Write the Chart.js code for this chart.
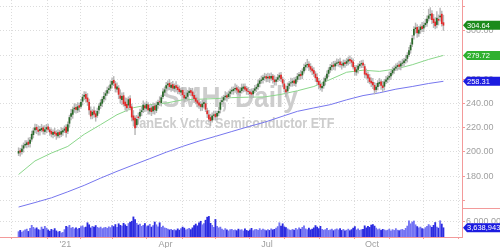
<!DOCTYPE html>
<html>
<head>
<meta charset="utf-8">
<script src="https://cdn.jsdelivr.net/npm/chart.js@4.4.1/dist/chart.umd.min.js"></script>
<style>
  html, body { margin: 0; padding: 0; background: #fff; }
  #wrap { width: 500px; height: 248px; position: relative; }
</style>
</head>
<body>
<div id="wrap"><canvas id="myChart"></canvas></div>
<script>
// SMH daily, 2020-11-19 .. 2021-12-02 (bar index 0..259)
const opens = [
  198.9, 200.9, 200.2, 203.0, 205.6, 206.0, 208.1, 206.9, 210.5, 214.2,
  218.1, 220.3, 218.0, 217.5, 218.2, 219.9, 216.8, 218.9, 220.7, 218.2,
  216.9, 214.5, 216.6, 215.4, 213.2, 216.3, 214.6, 216.4, 217.8, 220.4,
  217.1, 223.6, 229.3, 231.0, 235.5, 236.8, 234.6, 238.2, 237.5, 241.8,
  245.9, 247.5, 244.6, 241.0, 233.8, 230.5, 233.9, 231.5, 230.1, 234.6,
  238.2, 240.1, 243.8, 246.6, 248.5, 251.4, 252.6, 255.8, 259.1, 256.2,
  251.9, 252.7, 246.3, 243.1, 246.4, 241.2, 239.3, 238.6, 243.9, 237.2,
  229.8, 227.9, 222.4, 228.9, 229.5, 233.2, 234.9, 238.1, 235.9, 238.8,
  233.7, 236.4, 233.9, 237.9, 234.2, 238.9, 241.5, 240.6, 245.7, 249.2,
  252.6, 255.3, 256.7, 253.2, 255.6, 252.4, 254.8, 253.5, 251.9, 249.3,
  250.9, 246.8, 244.1, 245.8, 248.9, 250.7, 249.5, 246.7, 244.5, 242.3,
  240.6, 239.2, 237.1, 239.9, 239.8, 233.9, 230.6, 228.4, 226.3, 230.1,
  231.2, 229.4, 232.2, 235.1, 241.4, 242.8, 245.5, 246.6, 245.6, 248.3,
  250.2, 250.6, 252.0, 252.9, 251.4, 249.1, 250.6, 252.5, 253.8, 252.3,
  250.1, 249.6, 248.9, 247.9, 250.8, 252.4, 253.8, 256.5, 258.9, 259.7,
  261.6, 262.3, 261.2, 262.4, 260.9, 262.6, 259.5, 258.3, 259.9, 261.7,
  263.4, 259.8, 256.2, 251.4, 250.3, 254.8, 256.9, 257.3, 258.7, 256.6,
  259.9, 262.7, 264.1, 263.5, 266.9, 270.2, 271.9, 272.6, 270.5, 268.6,
  267.2, 264.3, 261.5, 258.4, 255.9, 252.9, 254.6, 258.3, 260.9, 264.8,
  267.8, 270.3, 271.8, 270.9, 273.1, 273.8, 274.5, 272.4, 271.5, 273.8,
  273.2, 274.9, 276.4, 275.6, 274.3, 269.8, 265.9, 268.2, 271.1, 272.6,
  273.4, 270.5, 264.8, 263.9, 261.2, 258.5, 257.4, 255.0, 251.5, 253.9,
  256.5, 257.8, 254.6, 254.2, 258.3, 259.9, 261.6, 262.8, 265.2, 267.5,
  269.2, 270.5, 271.9, 270.9, 273.1, 273.8, 275.5, 277.2, 280.4, 284.2,
  289.0, 296.5, 301.8, 302.9, 298.0, 300.9, 303.6, 302.3, 305.1, 306.5,
  310.3, 312.9, 314.1, 309.8, 307.4, 305.2, 309.6, 311.5, 313.8, 306.8
];
const highs = [
  203.4, 203.0, 205.5, 207.4, 209.4, 209.4, 211.5, 212.0, 217.2, 219.7,
  223.0, 222.7, 221.5, 221.1, 222.8, 221.5, 221.8, 222.7, 222.9, 220.3,
  219.1, 218.1, 219.6, 217.5, 218.5, 217.9, 220.0, 219.7, 221.5, 222.5,
  224.8, 230.3, 235.2, 237.1, 239.9, 239.3, 240.7, 240.4, 243.5, 247.6,
  249.9, 249.6, 248.2, 243.6, 237.2, 235.0, 237.2, 234.1, 236.2, 239.8,
  243.1, 245.4, 249.1, 250.5, 253.6, 254.6, 258.7, 261.1, 262.3, 258.3,
  257.0, 254.8, 251.3, 248.7, 249.0, 244.6, 244.4, 245.5, 246.5, 239.4,
  234.2, 229.7, 230.2, 232.2, 235.4, 237.4, 242.1, 240.6, 242.0, 240.7,
  238.6, 238.5, 240.6, 240.1, 241.3, 242.8, 245.6, 246.9, 252.2, 253.7,
  257.4, 258.6, 259.9, 257.5, 258.3, 256.2, 258.0, 255.4, 254.5, 252.8,
  253.1, 249.1, 248.8, 250.8, 253.1, 252.5, 252.6, 248.7, 247.1, 244.7,
  243.3, 241.5, 242.9, 243.6, 242.4, 236.2, 234.4, 231.1, 232.3, 233.6,
  233.8, 233.8, 236.8, 243.0, 245.6, 246.8, 249.9, 248.9, 250.3, 251.8,
  253.6, 253.7, 256.3, 255.1, 254.0, 252.4, 256.1, 256.1, 256.2, 254.2,
  253.4, 251.6, 252.1, 252.5, 254.9, 255.6, 259.5, 260.8, 262.7, 263.4,
  265.0, 264.2, 265.2, 264.6, 265.3, 264.1, 263.0, 261.9, 264.1, 265.3,
  265.7, 261.8, 259.4, 254.6, 256.9, 258.2, 260.9, 260.6, 261.3, 261.8,
  264.9, 265.8, 267.2, 268.7, 272.5, 273.9, 276.5, 274.6, 273.0, 270.8,
  269.7, 266.3, 264.6, 260.8, 258.8, 256.5, 261.2, 262.8, 266.9, 269.6,
  272.4, 273.7, 274.8, 275.1, 276.8, 276.4, 277.6, 274.6, 276.0, 275.9,
  277.2, 278.4, 279.4, 277.8, 276.9, 271.6, 271.4, 272.9, 274.9, 275.5,
  275.8, 272.4, 268.5, 266.2, 264.0, 261.2, 260.8, 257.3, 256.7, 258.9,
  260.7, 259.5, 258.3, 260.0, 262.4, 263.2, 266.0, 267.0, 270.0, 271.0,
  272.8, 273.5, 275.1, 275.0, 276.6, 277.2, 279.9, 282.0, 286.4, 290.2,
  296.4, 303.6, 306.5, 305.2, 303.8, 305.1, 307.1, 306.8, 309.7, 312.5,
  317.9, 319.2, 316.8, 313.6, 311.0, 315.9, 313.2, 318.9, 316.4, 313.0
];
const lows = [
  196.9, 196.5, 198.0, 199.7, 203.7, 203.3, 204.0, 203.8, 208.7, 211.5,
  215.6, 215.0, 213.8, 213.8, 216.5, 214.6, 214.5, 215.7, 216.8, 213.6,
  212.3, 211.6, 212.7, 210.3, 211.5, 211.6, 212.5, 213.5, 215.9, 212.1,
  215.1, 220.6, 226.3, 227.7, 232.6, 232.0, 232.4, 233.1, 235.9, 238.7,
  242.9, 241.0, 238.3, 231.0, 227.3, 227.3, 228.4, 225.3, 228.4, 231.7,
  235.8, 237.3, 241.3, 242.9, 246.7, 248.3, 250.5, 252.7, 254.7, 249.4,
  249.3, 243.9, 240.2, 239.0, 237.7, 234.5, 233.5, 235.6, 234.7, 225.5,
  221.3, 214.1, 220.0, 222.8, 227.5, 229.8, 232.4, 233.3, 234.2, 231.1,
  231.1, 229.9, 231.4, 231.1, 232.4, 235.9, 238.2, 237.8, 244.0, 246.5,
  250.5, 251.9, 251.4, 249.9, 250.7, 249.7, 250.8, 248.0, 247.7, 246.4,
  245.2, 241.0, 241.2, 242.5, 246.8, 246.3, 244.2, 240.6, 239.6, 237.1,
  235.9, 233.9, 234.2, 236.1, 233.2, 228.3, 224.6, 221.6, 224.5, 226.4,
  226.3, 226.5, 229.7, 232.1, 239.1, 240.0, 242.8, 241.8, 243.9, 245.4,
  247.6, 247.6, 249.1, 247.8, 247.1, 246.1, 248.5, 249.5, 250.0, 247.5,
  247.3, 244.7, 244.2, 244.7, 248.8, 249.7, 251.7, 253.6, 256.6, 256.8,
  259.1, 257.7, 258.1, 257.3, 259.0, 256.8, 255.2, 255.1, 258.1, 258.8,
  258.0, 253.7, 249.6, 245.4, 248.5, 252.0, 254.0, 254.2, 254.8, 254.0,
  257.8, 259.6, 260.1, 260.4, 265.0, 267.5, 269.4, 267.0, 266.0, 263.8,
  262.3, 258.2, 255.5, 252.0, 251.1, 249.9, 252.5, 255.2, 259.2, 262.0,
  265.6, 267.3, 268.1, 267.6, 271.1, 270.7, 269.9, 268.3, 269.9, 269.8,
  271.2, 271.8, 272.8, 270.6, 268.3, 263.4, 263.2, 265.1, 269.2, 269.5,
  269.5, 261.2, 260.7, 257.1, 256.2, 253.9, 252.2, 247.8, 249.4, 251.2,
  254.4, 251.6, 249.8, 251.1, 256.4, 257.1, 259.3, 259.8, 263.6, 264.8,
  267.0, 267.4, 268.2, 267.7, 270.9, 271.1, 273.2, 274.2, 278.7, 281.5,
  286.9, 293.1, 298.0, 294.6, 295.3, 297.9, 299.3, 299.2, 303.2, 303.7,
  308.1, 309.6, 306.0, 302.6, 301.5, 302.4, 304.8, 308.1, 303.8, 300.3
];
const closes = [
  200.5, 199.8, 202.4, 205.1, 206.3, 207.5, 206.2, 209.8, 214.6, 217.3,
  219.8, 218.4, 216.9, 218.7, 219.5, 217.2, 218.3, 220.1, 218.6, 216.4,
  214.8, 216.2, 215.1, 213.7, 215.9, 214.2, 216.8, 217.5, 218.9, 216.0,
  222.5, 228.4, 231.6, 234.8, 236.2, 235.1, 237.4, 236.8, 240.9, 245.2,
  246.8, 244.1, 241.3, 234.7, 229.6, 232.8, 231.2, 228.9, 233.5, 237.8,
  240.6, 243.4, 245.9, 248.1, 250.7, 252.3, 255.4, 258.2, 256.9, 252.6,
  253.8, 247.5, 244.2, 245.8, 239.6, 238.1, 236.4, 243.2, 236.5, 228.7,
  226.3, 219.8, 226.9, 228.2, 232.6, 234.1, 238.7, 236.4, 239.3, 234.6,
  235.9, 233.2, 237.5, 234.8, 238.6, 240.9, 241.2, 244.8, 249.6, 251.3,
  254.8, 256.2, 253.9, 255.1, 252.7, 254.3, 253.1, 251.4, 249.8, 250.6,
  247.2, 244.5, 245.3, 248.6, 250.2, 249.1, 246.3, 244.0, 241.8, 240.2,
  238.5, 237.4, 239.6, 240.8, 235.2, 231.4, 227.1, 225.8, 229.7, 230.6,
  228.9, 231.8, 233.5, 240.7, 242.3, 244.9, 246.1, 245.2, 247.8, 249.6,
  250.9, 251.7, 252.4, 251.1, 249.3, 250.2, 252.8, 253.6, 251.9, 250.4,
  249.8, 248.1, 247.6, 250.3, 252.1, 253.4, 256.2, 258.7, 259.5, 261.3,
  262.0, 260.8, 261.9, 260.7, 262.4, 259.8, 257.9, 259.6, 261.4, 263.1,
  260.2, 256.8, 252.1, 249.5, 254.2, 256.3, 257.1, 258.4, 256.9, 259.7,
  262.3, 263.8, 262.9, 266.4, 269.8, 271.6, 272.3, 270.1, 268.2, 266.9,
  264.8, 261.2, 258.0, 255.6, 253.4, 254.1, 257.9, 260.6, 264.3, 267.5,
  269.9, 271.4, 270.6, 272.8, 273.5, 274.2, 272.1, 271.8, 273.4, 272.9,
  274.6, 276.1, 275.3, 274.0, 270.2, 266.4, 267.9, 270.8, 272.3, 273.1,
  271.6, 264.2, 263.5, 260.8, 258.1, 256.9, 255.3, 251.2, 253.6, 256.8,
  257.4, 254.9, 253.1, 257.8, 259.6, 261.2, 262.5, 264.9, 267.3, 268.8,
  270.1, 271.4, 270.6, 272.8, 273.5, 275.2, 276.4, 279.8, 283.6, 288.1,
  293.7, 301.2, 302.5, 298.4, 300.7, 303.2, 301.9, 304.6, 306.3, 309.8,
  312.4, 313.6, 309.2, 306.8, 304.1, 310.5, 308.7, 312.3, 305.9, 304.64
];
// volume in millions of shares
const volumes = [
  2.1, 2.6, 1.9, 2.4, 2.8, 3.1, 2.2, 3.4, 4.6, 3.8, 3.2,
  3.6, 2.9, 2.7, 3.9, 3.1, 4.2, 3.5, 2.8, 2.3, 3.0, 2.6, 3.3, 2.4, 1.9, 2.2, 1.6, 1.8, 2.9,
  4.2, 3.9, 4.6, 3.5, 3.8, 3.2, 3.6, 3.1, 3.4, 4.1, 4.4, 3.7, 3.9, 5.6, 4.8, 3.6, 4.2, 3.9, 4.5,
  3.8, 3.5, 3.9, 3.3, 3.6, 3.8, 3.4, 4.0, 3.7, 4.5, 4.1, 4.9, 3.8, 5.2, 4.6, 4.3, 5.4, 4.8, 4.2,
  5.3, 5.8, 6.2, 7.9, 6.8, 5.4, 4.7, 5.1, 4.2, 4.6, 5.3, 4.1, 4.4, 5.0, 3.9, 4.5, 5.9, 4.8, 4.0, 5.6, 3.8, 4.3, 3.6,
  3.4, 3.1, 2.8, 3.0, 2.6, 2.9, 2.5, 3.2, 2.7, 3.3, 3.9, 3.5, 2.8, 3.1, 3.4, 2.9, 3.6, 4.5, 5.1, 4.4, 5.6,
  6.2, 4.8, 5.3, 6.6, 7.8, 8.1, 5.4, 4.6, 3.8, 6.9, 4.2, 3.6, 3.9, 3.1, 2.7, 3.3, 2.8, 2.4, 2.9,
  3.0, 2.6, 2.8, 2.5, 3.1, 2.7, 2.9, 2.4, 3.2, 2.6, 2.3, 2.8, 3.4, 2.5, 2.9, 3.0, 2.6, 3.3, 2.7, 3.1, 2.8, 2.5,
  2.9, 2.6, 3.2, 2.8, 3.0, 3.5, 4.1, 5.6, 4.3, 5.2, 4.0, 3.7, 3.2, 2.8, 2.6, 3.0, 2.7, 3.4, 2.9, 3.6, 3.1,
  3.8, 4.4, 3.2, 2.9, 3.5, 2.8, 3.1, 3.6, 4.5, 3.9, 3.3, 4.2, 3.0, 2.7, 2.9, 3.4, 2.6, 2.8, 3.1, 2.5, 2.9, 3.2,
  2.8, 3.3, 2.6, 3.0, 2.4, 2.7, 3.1, 2.5, 2.9, 3.5, 4.1, 2.8, 3.2, 2.6, 2.9, 3.0, 4.4, 3.6, 4.2, 3.8, 4.7,
  4.9, 4.3, 3.5, 2.9, 3.2, 2.6, 3.0, 2.8, 2.5, 2.7, 3.1, 2.4, 2.9, 2.6, 3.3, 2.7, 2.5, 2.8, 3.0, 2.6, 3.4,
  4.3, 6.4, 5.2, 5.9, 6.3, 4.8, 4.1, 3.6, 3.9, 3.3, 3.1, 3.7, 4.2, 4.9, 4.4, 3.8, 4.6, 5.7, 3.9, 3.5, 6.4, 5.1, 3.638943
];
// moving averages, read at these bar indices
const smaIdx = [0, 10, 20, 30, 40, 50, 60, 70, 80, 90, 100, 110, 120, 130, 140, 150, 160, 170, 180, 190, 200, 210, 220, 230, 240, 250, 259];
const sma50 = [181.3, 192.5, 199.0, 204.5, 214.5, 222.5, 230.7, 236.5, 239.0, 240.3, 243.0, 243.5, 244.0, 244.8, 245.2, 245.4, 247.5, 250.5, 254.0, 259.8, 265.8, 267.5, 266.5, 268.5, 272.0, 276.4, 279.72];
const sma200 = [154.4, 158.1, 162.0, 167.0, 172.3, 178.3, 183.9, 189.2, 194.4, 199.7, 204.5, 208.9, 212.8, 216.8, 220.8, 224.5, 229.0, 233.5, 236.3, 239.0, 243.0, 246.5, 248.8, 251.8, 254.0, 256.5, 258.31];

// first bar of each month and the axis labels
const monthStarts = [7, 29, 48, 67, 90, 111, 130, 152, 173, 195, 216, 237, 258];
const monthLabels = ['', "'21", '', '', 'Apr', '', '', 'Jul', '', '', 'Oct', '', ''];
const priceTicks = [160, 180, 200, 220, 240, 260, 280, 300, 320];
const volumeTicks = [6];

const UP = '#2a6a2a', DOWN = '#e22a2a';
const RED = '#f39a9a';

const bodies = closes.map((c, i) => ({ x: i, y: [opens[i], c] }));
const wicks = highs.map((h, i) => ({ x: i, y: [lows[i], h] }));
const vols = volumes.map((v, i) => ({ x: i, y: v }));
const bodyColors = closes.map((c, i) => c >= opens[i] ? UP : DOWN);
const volColors = closes.map((c, i) => c >= opens[i] ? '#7373f3' : '#2b2be0');

Chart.defaults.font.family = "'Liberation Sans', Arial, sans-serif";
Chart.defaults.font.size = 9;
Chart.defaults.color = '#a0a0a0';

const watermark = {
  id: 'watermark',
  beforeDatasetsDraw(chart) {
    const ctx = chart.ctx;
    const fit = (text, font, cx, y, w) => {
      ctx.save();
      ctx.font = font;
      const m = ctx.measureText(text).width;
      ctx.translate(cx, y);
      ctx.scale(w / m, 1);
      ctx.textAlign = 'center';
      ctx.textBaseline = 'alphabetic';
      ctx.fillStyle = '#cdcdcd';
      ctx.fillText(text, 0, 0);
      ctx.restore();
    };
    fit('SMH, Daily', "bold 30px 'Liberation Sans'", 230, 107, 136);
    fit('VanEck Vctrs Semiconductor ETF', "bold 15px 'Liberation Sans'", 233, 128, 203);
  }
};

const tags = {
  id: 'tags',
  afterDraw(chart) {
    const ctx = chart.ctx;
    const ys = chart.scales.y, yv = chart.scales.yv;
    const left = chart.chartArea.right + 1;
    const tag = (y, text, color) => {
      ctx.save();
      ctx.fillStyle = color;
      ctx.beginPath();
      ctx.moveTo(left, y);
      ctx.lineTo(left + 4, y - 4.5);
      ctx.lineTo(500, y - 4.5);
      ctx.lineTo(500, y + 4.5);
      ctx.lineTo(left + 4, y + 4.5);
      ctx.closePath();
      ctx.fill();
      ctx.fillStyle = '#fff';
      ctx.font = "7.5px 'Liberation Sans'";
      ctx.textBaseline = 'middle';
      ctx.fillText(text, left + 4, y + 0.5);
      ctx.restore();
    };
    const n = closes.length - 1;
    tag(ys.getPixelForValue(closes[n]), closes[n].toFixed(2), '#1b8a1b');
    tag(ys.getPixelForValue(sma50[sma50.length - 1]), sma50[sma50.length - 1].toFixed(2), '#2fb02f');
    tag(ys.getPixelForValue(sma200[sma200.length - 1]), sma200[sma200.length - 1].toFixed(2), '#1c1ce0');
    tag(yv.getPixelForValue(volumes[n]), Math.round(volumes[n] * 1e6).toLocaleString('en-US'), '#1c1ce0');
    // pane separator on the axis side
    const sep = chart.scales.y.bottom;
    ctx.save();
    ctx.strokeStyle = RED;
    ctx.lineWidth = 1;
    ctx.beginPath();
    ctx.moveTo(chart.chartArea.right, Math.round(sep) + 0.5);
    ctx.lineTo(500, Math.round(sep) + 0.5);
    ctx.stroke();
    ctx.restore();
  }
};

const fixY = (s) => { s.width = 38; s.paddingTop = 0; s.paddingBottom = 0; };

new Chart(document.getElementById('myChart'), {
  data: {
    datasets: [
      { type: 'bar', data: bodies, backgroundColor: bodyColors, barThickness: 1.1, grouped: false, yAxisID: 'y' },
      { type: 'bar', data: wicks, backgroundColor: '#b8b8b8', barThickness: 0.8, grouped: false, yAxisID: 'y' },
      { type: 'line', data: smaIdx.map((x, k) => ({ x, y: sma50[k] })), borderColor: '#8ad68a', borderWidth: 1, pointRadius: 0, tension: 0, yAxisID: 'y' },
      { type: 'line', data: smaIdx.map((x, k) => ({ x, y: sma200[k] })), borderColor: '#7676ee', borderWidth: 1, pointRadius: 0, tension: 0, yAxisID: 'y' },
      { type: 'bar', data: vols, backgroundColor: volColors, barThickness: 1.2, grouped: false, yAxisID: 'yv' }
    ]
  },
  options: {
    responsive: true,
    maintainAspectRatio: false,
    animation: false,
    events: [],
    layout: { padding: 0 },
    plugins: { legend: { display: false }, tooltip: { enabled: false } },
    scales: {
      x: {
        type: 'linear', min: -0.5, max: closes.length - 0.5,
        afterBuildTicks: (s) => { s.ticks = monthStarts.map(v => ({ value: v - 0.5 })); },
        afterFit: (s) => { s.height = 11; s.paddingLeft = 0; s.paddingRight = 0; },
        ticks: { autoSkip: false, maxRotation: 0, padding: 0, color: '#a0a0a0', font: { size: 9 },
          callback: (v, i) => monthLabels[i] },
        grid: { color: '#dcdcdc', tickColor: RED, tickLength: 2 },
        border: { color: RED, dash: [1, 2] }
      },
      y: {
        type: 'linear', position: 'right', stack: 'pane', stackWeight: 208,
        min: 153.6, max: 325.5,
        afterBuildTicks: (s) => { s.ticks = priceTicks.map(v => ({ value: v })); },
        afterFit: fixY,
        ticks: { autoSkip: false, padding: 1, color: '#a0a0a0',
          callback: (v) => (v >= 180 && v <= 300) ? v.toFixed(2) : '' },
        grid: { color: '#dcdcdc', tickColor: RED, tickLength: 3 },
        border: { color: RED, dash: [1, 2] }
      },
      yv: {
        type: 'linear', position: 'right', stack: 'pane', stackWeight: 29,
        min: 0, max: 11.4,
        afterBuildTicks: (s) => { s.ticks = volumeTicks.map(v => ({ value: v })); },
        afterFit: fixY,
        ticks: { autoSkip: false, padding: 1, color: '#a0a0a0',
          callback: (v) => Math.round(v * 1e6).toLocaleString('en-US') },
        grid: { color: '#dcdcdc', tickColor: RED, tickLength: 3 },
        border: { color: RED, dash: [1, 2] }
      }
    }
  },
  plugins: [watermark, tags]
});
</script>
</body>
</html>
